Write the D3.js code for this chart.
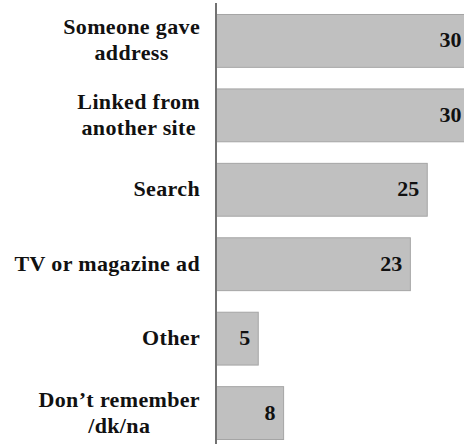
<!DOCTYPE html>
<html>
<head>
<meta charset="utf-8">
<script src="https://cdn.jsdelivr.net/npm/d3@7"></script>
<style>
  body { margin: 0; background: #fff; }
</style>
</head>
<body>
<div id="chart"></div>
<script>
// chart data
const categories = ["Someone gave address", "Linked from another site", "Search", "TV or magazine ad", "Other", "Don\u2019t remember /dk/na"];
const labelLines = [["Someone gave", "address"], ["Linked from", "another site"], ["Search"], ["TV or magazine ad"], ["Other"], ["Don\u2019t remember", "/dk/na"]];
const values = [30, 30, 25, 23, 5, 8];

const width = 464, height = 444;
const axisX = 216;
const fontFam = "'Liberation Serif', serif";

const svg = d3.select("#chart").append("svg")
    .attr("width", width)
    .attr("height", height);

// scales
const y = d3.scaleBand()
    .domain(categories)
    .range([0, 453])
    .paddingInner(0.29)
    .paddingOuter(0.188);

const x = d3.scaleLinear()
    .domain([0, 30])
    .range([axisX, axisX + 30 * 8.45]);

// bars
svg.selectAll(".bar")
    .data(values)
    .enter()
    .append("rect")
    .attr("class", "bar")
    .attr("x", x(0))
    .attr("y", (d, i) => y(categories[i]) + 0.5)
    .attr("width", d => x(d) - x(0))
    .attr("height", y.bandwidth())
    .attr("fill", "#c0c0c0")
    .attr("stroke", "#a5a5a5")
    .attr("stroke-width", 1);

// value labels
svg.selectAll(".val")
    .data(values)
    .enter()
    .append("text")
    .attr("class", "val")
    .attr("x", d => x(d) - 8)
    .attr("y", (d, i) => y(categories[i]) + y.bandwidth() / 2 + 7)
    .attr("text-anchor", "end")
    .style("font-family", fontFam)
    .attr("font-weight", "bold")
    .attr("font-size", 22)
    .attr("fill", "#111")
    .text(d => d);

// vertical axis line
svg.append("line")
    .attr("x1", axisX).attr("x2", axisX)
    .attr("y1", 3).attr("y2", height)
    .attr("stroke", "#727272")
    .attr("stroke-width", 2);

// category labels: block right-aligned at 200, lines centered within block
const labelRight = 200;
labelLines.forEach((lines, i) => {
    const cy = y(categories[i]) + y.bandwidth() / 2;
    const g = svg.append("g").attr("class", "cat-label");
    const lineH = 26;
    const firstBase = cy + 7 - (lines.length - 1) * lineH / 2;
    const texts = lines.map((t, j) => g.append("text")
        .attr("y", firstBase + j * lineH)
        .attr("text-anchor", "middle")
        .style("font-family", fontFam)
        .attr("font-weight", "bold")
        .attr("font-size", 22)
        .attr("letter-spacing", 0.35)
        .attr("fill", "#111")
        .text(t));
    const maxW = d3.max(texts, t => t.node().getComputedTextLength());
    texts.forEach(t => t.attr("x", labelRight - maxW / 2));
});
</script>
</body>
</html>
